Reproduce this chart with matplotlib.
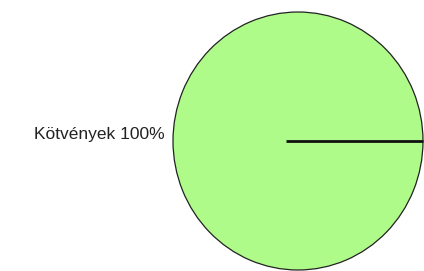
import matplotlib
matplotlib.use("Agg")
import matplotlib.pyplot as plt

# Data
categories = ["Kötvények"]
shares = [100]
slice_colors = ["#aefb8a"]

plt.rcParams['font.family'] = ['Liberation Sans', 'DejaVu Sans']

fig = plt.figure(figsize=(4.24, 2.71), dpi=100)
ax = fig.add_axes([0, 0, 1, 1])

labels = [f"{c} {v}%" for c, v in zip(categories, shares)]
wedges, texts = ax.pie(shares, labels=labels, colors=slice_colors,
                       labeldistance=1.07, startangle=0, radius=1,
                       wedgeprops=dict(edgecolor='#222222', linewidth=0.9),
                       textprops=dict(fontsize=12.5, color='#222222'))
for t in texts:
    x, y = t.get_position()
    t.set_position((x, y + 0.05))
    t.set_ha('right')
    t.set_va('center')

# slice boundary line (pie of 100% has no radial edge drawn)
ax.plot([-0.095, 1.0], [0, 0], color='#111111', linewidth=2.0, solid_capstyle='butt')

ax.set_aspect('auto')
ax.set_xlim(-298 / 125, 126 / 125)
ax.set_ylim(-130 / 129, 141 / 129)
ax.axis('off')

fig.savefig("out.png", dpi=100)
